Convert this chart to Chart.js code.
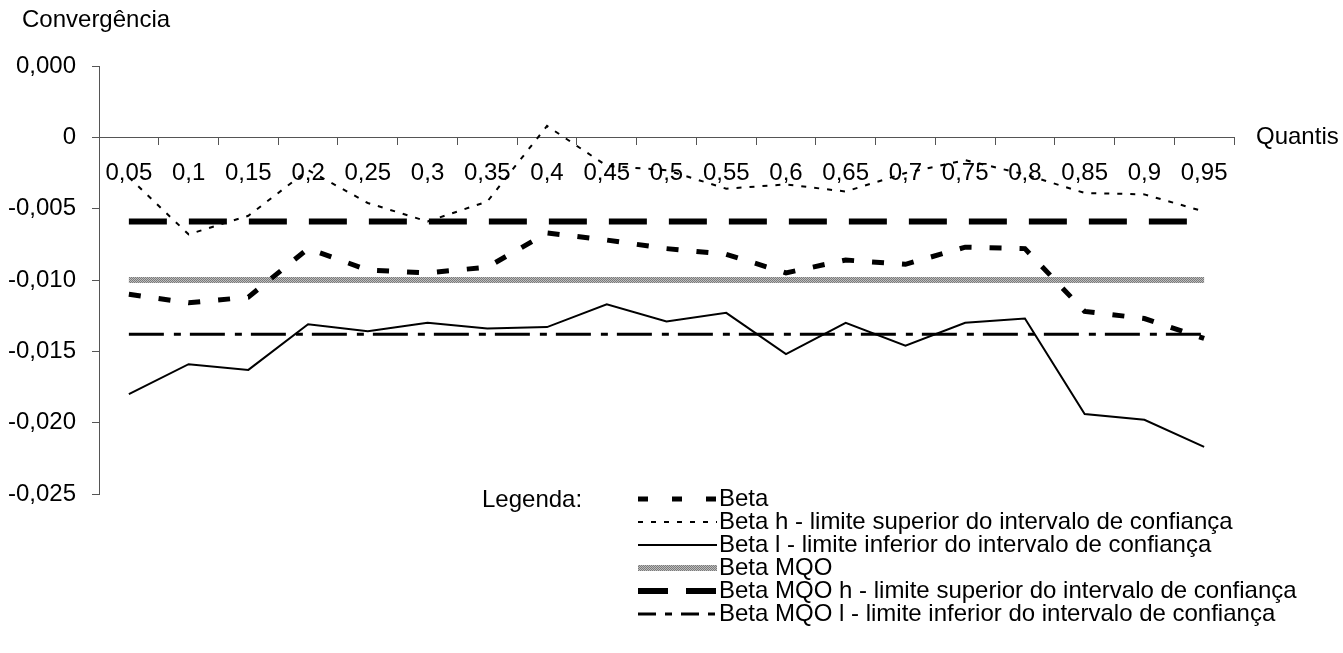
<!DOCTYPE html>
<html>
<head>
<meta charset="utf-8">
<script src="https://cdn.jsdelivr.net/npm/chart.js@4/dist/chart.umd.min.js"></script>
<style>
  body { margin: 0; background: #fff; }
  #wrap { width: 1343px; height: 653px; }
</style>
</head>
<body>
<div id="wrap"><canvas id="grafico" width="1343" height="653"></canvas></div>
<script>
// quantis no eixo x
var quantis = ['0,05', '0,1', '0,15', '0,2', '0,25', '0,3', '0,35', '0,4', '0,45', '0,5',
               '0,55', '0,6', '0,65', '0,7', '0,75', '0,8', '0,85', '0,9', '0,95'];

// rotulos do eixo y (de baixo para cima)
var rotulosY = ['-0,025', '-0,020', '-0,015', '-0,010', '-0,005', '0', '0,000'];

var beta = [-0.0110, -0.0116, -0.0112, -0.0078, -0.0093, -0.0095, -0.0091, -0.0067, -0.0072, -0.0078,
            -0.0082, -0.0095, -0.0086, -0.0089, -0.0077, -0.0078, -0.0122, -0.0127, -0.0141];
var betaH = [-0.0028, -0.0068, -0.0055, -0.0023, -0.0046, -0.0059, -0.0045, 0.0008, -0.0020, -0.0023,
             -0.0036, -0.0033, -0.0038, -0.0025, -0.0016, -0.0026, -0.0039, -0.0040, -0.0052];
var betaL = [-0.0180, -0.0159, -0.0163, -0.0131, -0.0136, -0.0130, -0.0134, -0.0133, -0.0117, -0.0129,
             -0.0123, -0.0152, -0.0130, -0.0146, -0.0130, -0.0127, -0.0194, -0.0198, -0.0217];
var betaMQO = [-0.0100, -0.0100, -0.0100, -0.0100, -0.0100, -0.0100, -0.0100, -0.0100, -0.0100, -0.0100,
               -0.0100, -0.0100, -0.0100, -0.0100, -0.0100, -0.0100, -0.0100, -0.0100, -0.0100];
var betaMQOh = [-0.0059, -0.0059, -0.0059, -0.0059, -0.0059, -0.0059, -0.0059, -0.0059, -0.0059, -0.0059,
                -0.0059, -0.0059, -0.0059, -0.0059, -0.0059, -0.0059, -0.0059, -0.0059, -0.0059];
var betaMQOl = [-0.0138, -0.0138, -0.0138, -0.0138, -0.0138, -0.0138, -0.0138, -0.0138, -0.0138, -0.0138,
                -0.0138, -0.0138, -0.0138, -0.0138, -0.0138, -0.0138, -0.0138, -0.0138, -0.0138];

var fonte = '"Liberation Sans", Arial, sans-serif';

// textura cinza da linha Beta MQO
var pc = document.createElement('canvas');
pc.width = 2; pc.height = 2;
var pctx = pc.getContext('2d');
pctx.fillStyle = '#bdbdbd'; pctx.fillRect(0, 0, 2, 2);
pctx.fillStyle = '#7a7a7a'; pctx.fillRect(0, 0, 1, 1); pctx.fillRect(1, 1, 1, 1);
var ctx = document.getElementById('grafico').getContext('2d');
var texturaCinza = ctx.createPattern(pc, 'repeat');

// titulos e legenda desenhados a mao
var textosPlugin = {
    id: 'textos',
    afterDraw: function (chart) {
        var c = chart.ctx;
        c.save();
        c.fillStyle = '#000';
        c.font = '24px ' + fonte;
        c.textBaseline = 'middle';
        c.textAlign = 'left';
        c.fillText('Convergência', 22, 20);
        c.fillText('Quantis', 1256, 137);
        c.fillText('Legenda:', 482, 500);

        var ds = chart.data.datasets;
        for (var i = 0; i < ds.length; i++) {
            var y = 499 + i * 23;
            c.save();
            c.strokeStyle = ds[i].borderColor;
            c.lineWidth = ds[i].borderWidth;
            c.setLineDash(ds[i].legendDash || ds[i].borderDash || []);
            c.beginPath();
            c.moveTo(638, y);
            c.lineTo(717, y);
            c.stroke();
            c.restore();
            c.fillText(ds[i].label, 719, y);
        }
        c.restore();
    }
};

var chartConverg = new Chart(ctx, {
    type: 'line',
    data: {
        labels: quantis,
        datasets: [
            { label: 'Beta', data: beta, borderColor: '#000', borderWidth: 5,
              borderDash: [12, 18], legendDash: [10, 24] },
            { label: 'Beta h - limite superior do intervalo de confiança', data: betaH,
              borderColor: '#000', borderWidth: 2, borderDash: [5, 8] },
            { label: 'Beta l - limite inferior do intervalo de confiança', data: betaL,
              borderColor: '#000', borderWidth: 2 },
            { label: 'Beta MQO', data: betaMQO, borderColor: texturaCinza, borderWidth: 6 },
            { label: 'Beta MQO h - limite superior do intervalo de confiança', data: betaMQOh,
              borderColor: '#000', borderWidth: 6, borderDash: [38, 22], legendDash: [30, 18] },
            { label: 'Beta MQO l - limite inferior do intervalo de confiança', data: betaMQOl,
              borderColor: '#000', borderWidth: 3, borderDash: [35, 10, 7, 9], legendDash: [18, 9, 7, 9] }
        ]
    },
    options: {
        responsive: false,
        animation: false,
        layout: { padding: { left: 0, top: 66, right: 109, bottom: 159 } },
        elements: {
            point: { radius: 0 },
            line: { tension: 0, fill: false, borderCapStyle: 'butt' }
        },
        plugins: {
            legend: { display: false },
            tooltip: { enabled: false }
        },
        scales: {
            x: {
                type: 'category',
                position: { y: 0 },
                offset: true,
                grid: { offset: true, drawOnChartArea: false, tickLength: 7, color: '#555' },
                border: { color: '#555', width: 1 },
                ticks: { autoSkip: false, maxRotation: 0, padding: 15, color: '#000',
                         font: { family: fonte, size: 24 } }
            },
            y: {
                min: -0.025,
                max: 0.005,
                afterFit: function (scale) { scale.width = 99; },
                grid: { drawOnChartArea: false, tickLength: 7, color: '#555' },
                border: { color: '#555', width: 1 },
                ticks: {
                    stepSize: 0.005,
                    padding: 16,
                    color: '#000',
                    font: { family: fonte, size: 24 },
                    callback: function (value, index) { return rotulosY[index]; }
                }
            }
        }
    },
    plugins: [textosPlugin]
});
</script>
</body>
</html>
